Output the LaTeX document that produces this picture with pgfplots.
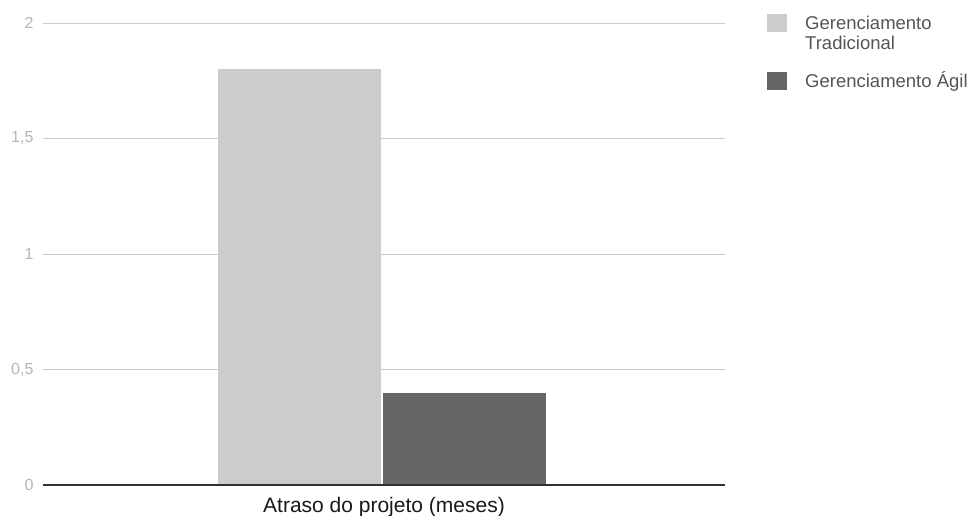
\documentclass[border=0pt]{standalone}
\usepackage{pgfplots}
\pgfplotsset{compat=1.18}
\usepackage{fontspec}
\setmainfont{Liberation Sans}
\definecolor{barlight}{HTML}{CCCCCC}
\definecolor{bardark}{HTML}{666666}
\definecolor{gridc}{HTML}{CCCCCC}
\definecolor{ticktext}{HTML}{B5B5B5}
\definecolor{legtext}{HTML}{555555}
\definecolor{zeroline}{HTML}{333333}
\begin{document}
\begin{tikzpicture}
\useasboundingbox (0,0) rectangle (980pt,515pt);
\begin{axis}[
  at={(43pt,30pt)}, anchor=south west,
  scale only axis,
  width=682pt, height=462pt,
  xmin=-1, xmax=1,
  ymin=0, ymax=2,
  ytick={0,0.5,1,1.5,2},
  xtick={0},
  xticklabels={Atraso do projeto (meses)},
  xticklabel style={font=\fontsize{21}{24}\selectfont, text=black!90, yshift=-4pt},
  yticklabel style={font=\fontsize{16}{19}\selectfont, text=ticktext, xshift=-6pt},
  /pgf/number format/use comma,
  /pgf/number format/assume math mode=true,
  axis line style={draw=none},
  tick style={draw=none},
  ymajorgrids,
  grid style={gridc, line width=0.9pt},
  ybar, bar width=163pt,
  legend style={at={(1.0,1.0)}, anchor=north west, xshift=42pt, yshift=9pt,
    draw=none, fill=none, inner sep=0pt,
    font=\fontsize{18.5}{21}\selectfont, text=legtext,
    row sep=39pt, column sep=18pt,
    nodes={anchor=base west, inner sep=0pt}},
  legend cell align=left,
  legend image code/.code={\fill[#1] (0pt,-3pt) rectangle (20pt,15pt);},
]
\addplot[fill=barlight, draw=none, bar shift=-84.5pt] coordinates {(0,1.8)};
\addplot[fill=bardark, draw=none, bar shift=80.5pt] coordinates {(0,0.4)};
\legend{{\begin{tabular}[t]{@{}l@{}}Gerenciamento\\[-1pt]Tradicional\end{tabular}}, Gerenciamento Ágil}
\draw[zeroline, line width=1.3pt] (axis cs:-1,0) -- (axis cs:1,0);
\end{axis}
\end{tikzpicture}
\end{document}
